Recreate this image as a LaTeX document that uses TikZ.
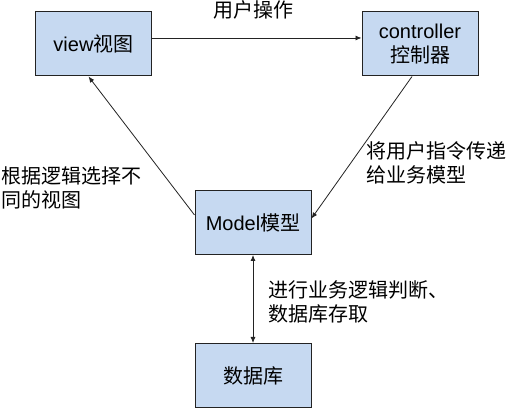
\documentclass[tikz,border=0pt]{standalone}
\usepackage{fontspec}
\setmainfont{Liberation Sans}
\newfontfamily\cjk{Noto Sans CJK SC}
\usetikzlibrary{arrows.meta,positioning}
\definecolor{boxblue}{RGB}{198,217,241}
\definecolor{edgegray}{RGB}{35,35,35}

\begin{document}
\begin{tikzpicture}[x=1pt,y=1pt,
    box/.style={draw=edgegray,line width=1pt,fill=boxblue,minimum width=116pt,
      minimum height=64pt,inner sep=0pt,align=center,font=\fontsize{20}{24}\selectfont},
    link/.style={draw=edgegray,line width=0.8pt,-{Latex[length=6pt,width=5pt]}},
    note/.style={align=left,inner sep=0pt,font=\fontsize{20}{24}\selectfont\cjk}]
  \useasboundingbox (0,0) rectangle (508,409);
  \fill[white] (0,0) rectangle (508,409);

  % the four parts
  \node[box] (view) at (93.5,365) {view{\cjk 视图}};
  \node[box] (ctrl) at (420,365) {controller\\{\cjk 控制器}};
  \node[box] (model) at (253,186.5) {Model{\cjk 模型}};
  \node[box] (db) at (253,33.5) {{\cjk 数据库}};

  % connectors
  \draw[link] ([yshift=6pt]view.east) -- ([yshift=6pt]ctrl.west);
  \draw[link] ([xshift=-8pt]ctrl.south) -- ([yshift=4pt]model.east);
  \draw[link] ([yshift=7.5pt]model.west) -- ([xshift=-5pt]view.south);
  \draw[link,{Latex[length=6pt,width=5pt]}-{Latex[length=6pt,width=5pt]}] (model.south) -- (db.north);

  % labels
  \node[note] (opLbl) at (253,399.5) {用户操作};
  \node[note,anchor=west] (viewLbl) at (1,221) {根据逻辑选择不\\同的视图};
  \node[note,anchor=west] (ctrlLbl) at (366,246.5) {将用户指令传递\\给业务模型};
  \node[note,anchor=west] (dbLbl) at (268,107.5) {进行业务逻辑判断、\\数据库存取};
\end{tikzpicture}
\end{document}
